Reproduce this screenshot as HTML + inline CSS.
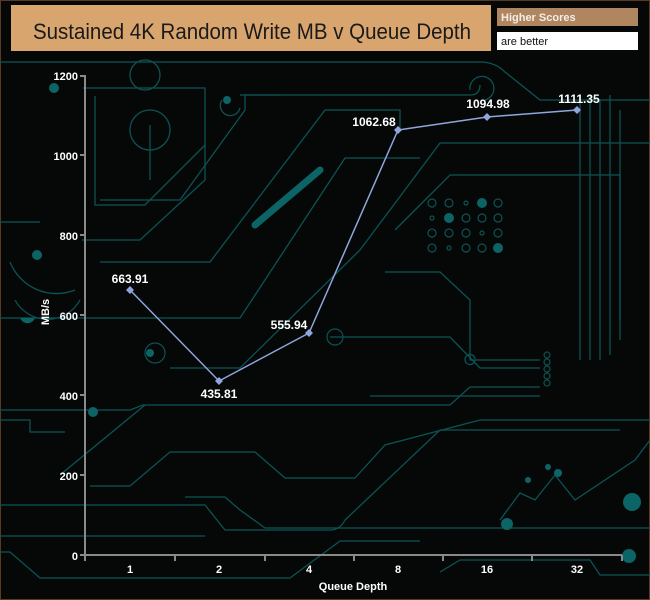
<!DOCTYPE html>
<html><head><meta charset="utf-8"><style>
html,body{margin:0;padding:0;background:#050707;}
svg{display:block;}
text{font-family:"Liberation Sans",sans-serif;}
</style></head><body>
<svg width="650" height="600" viewBox="0 0 650 600" xmlns="http://www.w3.org/2000/svg">
<rect x="0" y="0" width="650" height="600" fill="#060808"/>
<rect x="0.5" y="0.5" width="649" height="599" fill="none" stroke="#5a3a20" stroke-width="1"/>
<g fill="none" stroke="#0c5354" stroke-width="1.3">
<path d="M0 62 H480 Q495 62 505 72 L540 100 H650"/>
<path d="M83 88 H205 V180 L140 240 H82"/>
<path d="M95 96 V205 H145 L205 145"/>
<path d="M100 200 H180 L245 110 V95 H280"/>
<path d="M100 262 H210 L325 110 H400 V130"/>
<path d="M0 318 H240 L345 158 H420"/>
<path d="M170 368 H240 L360 250 L440 143 H650"/>
<path d="M0 222 H40"/>
<path d="M240 95 H470 Q480 95 480 85"/>
<path d="M395 230 L450 175 H620 V340"/>
<path d="M385 272 H440 L470 300 V360 H540"/>
<path d="M330 337 H450 L480 368 H540"/>
<path d="M370 396 H540"/>
<path d="M0 410 H130 L143 405 H450 L470 387 H540"/>
<path d="M0 420 H30 V432 H65"/>
<path d="M60 475 L145 405"/>
<path d="M90 486 H130 L170 452 H255 L285 478 H355 L385 445 L480 420 H650"/>
<path d="M0 505 H205 L225 530 H330 Q340 530 345 520 L440 430 L470 430 H620"/>
<path d="M185 497 H225 L240 510 L265 528 H650"/>
<path d="M0 536 H205"/>
<path d="M0 552 H10 L40 578 H290 L340 541 H420"/>
<path d="M440 572 L460 560 H590 L600 575 H650"/>
<path d="M500 520 L520 493 L535 500 L555 475 L575 500 L635 460 L650 440"/>
<path d="M15 300 A37 37 0 0 0 80 300"/>
<path d="M10 262 A50 50 0 0 0 75 290"/>
<path d="M130 75 A15 15 0 0 1 160 75 A15 15 0 0 1 130 75"/>
<path d="M130 130 A20 20 0 1 1 170 130 A20 20 0 1 1 130 130"/>
<path d="M150 125 V180"/>
<path d="M222 100 A10 10 0 1 0 240 108"/>
<path d="M470 90 A12 12 0 1 1 485 100"/>
<path d="M580 100 V360 M590 95 V360 M600 100 V360 M610 95 V355 M620 110 V320"/>
<path d="M475 360 A5 5 0 1 1 475 359"/>
</g>
<g fill="#0c6466">
<circle cx="37" cy="255" r="5"/><circle cx="93" cy="412" r="5"/><circle cx="227" cy="100" r="4"/>
<circle cx="507" cy="524" r="6"/><circle cx="528" cy="480" r="3"/><circle cx="558" cy="473" r="4"/><circle cx="548" cy="467" r="3"/>
<circle cx="632" cy="502" r="9"/><circle cx="629" cy="556" r="7"/>
<circle cx="482" cy="203" r="5"/><circle cx="449" cy="218" r="5"/><circle cx="498" cy="248" r="5"/>
<circle cx="150" cy="353" r="4"/><circle cx="54" cy="88" r="5"/>
<path d="M255 225 L320 170" stroke="#0c6466" stroke-width="7" stroke-linecap="round"/>
<path d="M0 318 H20 A8 8 0 0 0 35 318 Z"/>
</g>
<g fill="none" stroke="#0c5354" stroke-width="1.2">
<circle cx="432" cy="203" r="4"/><circle cx="449" cy="203" r="4"/><circle cx="466" cy="203" r="2"/><circle cx="498" cy="203" r="4"/>
<circle cx="432" cy="218" r="2"/><circle cx="466" cy="218" r="4"/><circle cx="482" cy="218" r="4"/><circle cx="498" cy="218" r="4"/>
<circle cx="432" cy="233" r="4"/><circle cx="449" cy="233" r="4"/><circle cx="466" cy="233" r="4"/><circle cx="482" cy="233" r="2"/><circle cx="498" cy="233" r="4"/>
<circle cx="432" cy="248" r="4"/><circle cx="449" cy="248" r="2"/><circle cx="466" cy="248" r="4"/><circle cx="482" cy="248" r="4"/>
<circle cx="547" cy="355" r="3"/><circle cx="547" cy="362" r="3"/><circle cx="547" cy="369" r="3"/><circle cx="547" cy="376" r="3"/><circle cx="547" cy="383" r="3"/>
<circle cx="155" cy="353" r="10"/><circle cx="335" cy="337" r="8"/>
</g>
<!-- header boxes -->
<rect x="11" y="5" width="480" height="46" fill="#d9a56f"/>
<text x="33" y="39" font-size="22" fill="#1a1a1a" textLength="438" lengthAdjust="spacingAndGlyphs">Sustained 4K Random Write MB v Queue Depth</text>
<rect x="497" y="8" width="141" height="18" fill="#b08660"/>
<text x="501" y="21" font-size="11" font-weight="bold" fill="#f4eee6">Higher Scores</text>
<rect x="497" y="32" width="141" height="18" fill="#ffffff"/>
<text x="501" y="45" font-size="11" fill="#111">are better</text>
<!-- axes -->
<g stroke="#8a8a8a" stroke-width="2" fill="none">
<path d="M85 75 V555 H622"/>
<path d="M80 76 H85 M80 155 H85 M80 235 H85 M80 315 H85 M80 395 H85 M80 475 H85 M80 555 H85"/>
<path d="M85 555 V561 M175 555 V561 M265 555 V561 M354 555 V561 M443 555 V561 M532 555 V561 M622 555 V561"/>
</g>
<g fill="#ffffff" font-size="11" font-weight="bold" text-anchor="end">
<text x="78" y="80">1200</text><text x="78" y="160">1000</text><text x="78" y="240">800</text>
<text x="78" y="320">600</text><text x="78" y="400">400</text><text x="78" y="480">200</text><text x="78" y="560">0</text>
</g>
<g fill="#ffffff" font-size="11" font-weight="bold" text-anchor="middle">
<text x="130" y="573">1</text><text x="219" y="573">2</text><text x="309" y="573">4</text>
<text x="398" y="573">8</text><text x="487" y="573">16</text><text x="577" y="573">32</text>
<text x="353" y="590">Queue Depth</text>
<text transform="translate(49,312) rotate(-90)">MB/s</text>
</g>
<polyline points="130,290 219,381 309,333 398,130 487,117 577,110" fill="none" stroke="#8fa6dc" stroke-width="1.5"/>
<g fill="#8fa6dc">
<path d="M130 286 L134 290 L130 294 L126 290Z"/><path d="M219 377 L223 381 L219 385 L215 381Z"/>
<path d="M309 329 L313 333 L309 337 L305 333Z"/><path d="M398 126 L402 130 L398 134 L394 130Z"/>
<path d="M487 113 L491 117 L487 121 L483 117Z"/><path d="M577 106 L581 110 L577 114 L573 110Z"/>
</g>
<g fill="#ffffff" font-size="12" font-weight="bold" text-anchor="middle">
<text x="130" y="283">663.91</text><text x="219" y="398">435.81</text><text x="289" y="329">555.94</text>
<text x="374" y="126">1062.68</text><text x="488" y="108">1094.98</text><text x="579" y="103">1111.35</text>
</g>
</svg>
</body></html>
